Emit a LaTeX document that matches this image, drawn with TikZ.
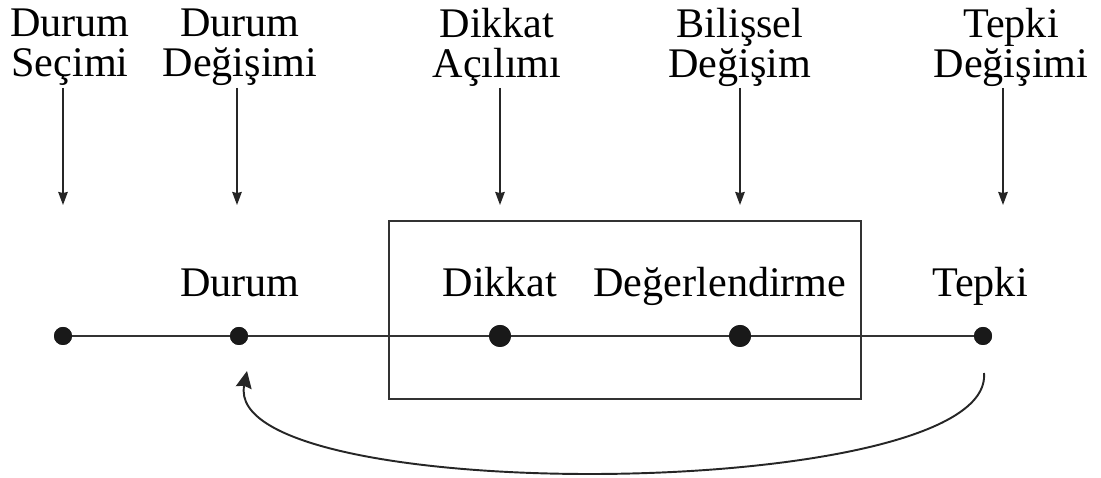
\documentclass[tikz,border=0pt]{standalone}
\usepackage{fontspec}
\setmainfont{Liberation Serif}
\usetikzlibrary{arrows.meta}
\begin{document}
\begin{tikzpicture}[
        lbl/.style={inner sep=0pt, font=\fontsize{24}{22.5}\selectfont},
        toplbl/.style={lbl, align=center, anchor=north},
        smalldot/.style={shape=circle, fill=black!90, inner sep=0pt, minimum size=0.36cm},
        bigdot/.style={shape=circle, fill=black!90, inner sep=0pt, minimum size=0.44cm},
        arr/.style={-{Stealth[length=0.26cm, width=0.19cm, inset=0.02cm]}, line width=0.9pt, black!85},
        line/.style={line width=0.9pt, black!80}
    ]
        \useasboundingbox (0, 0) rectangle (22.02, 9.56);
        % top labels
        \node[toplbl] (L1) at (1.40, 9.38) {Durum\\Seçimi};
        \node[toplbl] (L2) at (4.80, 9.38) {Durum\\Değişimi};
        \node[toplbl] (L3) at (9.94, 9.40) {Dikkat\\Açılımı};
        \node[toplbl] (L4) at (14.80, 9.40) {Bilişsel\\Değişim};
        \node[toplbl] (L5) at (20.22, 9.40) {Tepki\\Değişimi};
        % arrow ends
        \coordinate (a1) at (1.26, 7.80);
        \coordinate (b1) at (1.26, 5.46);
        \coordinate (a2) at (4.74, 7.80);
        \coordinate (b2) at (4.74, 5.46);
        \coordinate (a3) at (10.00, 7.80);
        \coordinate (b3) at (10.00, 5.46);
        \coordinate (a4) at (14.80, 7.80);
        \coordinate (b4) at (14.80, 5.46);
        \coordinate (a5) at (20.06, 7.80);
        \coordinate (b5) at (20.06, 5.46);
        \draw[arr] (a1) -- (b1);
        \draw[arr] (a2) -- (b2);
        \draw[arr] (a3) -- (b3);
        \draw[arr] (a4) -- (b4);
        \draw[arr] (a5) -- (b5);
        % box
        \node[draw=black!80, line width=0.9pt, minimum width=9.44cm, minimum height=3.56cm, inner sep=0pt] (box) at (12.50, 3.36) {};
        % stages
        \node[smalldot] (D1) at (1.26, 2.84) {};
        \node[smalldot] (D2) at (4.78, 2.84) {};
        \node[bigdot] (D3) at (10.00, 2.84) {};
        \node[bigdot] (D4) at (14.80, 2.84) {};
        \node[smalldot] (D5) at (19.66, 2.84) {};
        \draw[line] (D1.center) -- (D5.center);
        \node[smalldot] at (D1) {};
        \node[smalldot] at (D2) {};
        \node[bigdot] at (D3) {};
        \node[bigdot] at (D4) {};
        \node[smalldot] at (D5) {};
        \node[lbl, anchor=base] (S2) at (4.80, 3.62) {Durum};
        \node[lbl, anchor=base] (S3) at (10.00, 3.62) {Dikkat};
        \node[lbl, anchor=base] (S4) at (14.40, 3.62) {Değerlendirme};
        \node[lbl, anchor=base] (S5) at (19.60, 3.62) {Tepki};
        % feedback
        \coordinate (fb1) at (19.68, 2.10);
        \coordinate (fb2) at (4.94, 2.14);
        \draw[line width=1.1pt, black!85, -{Stealth[length=0.34cm, width=0.32cm, inset=0.04cm]}]
            (fb1) .. controls (19.90, -0.50) and (4.40, -0.60) .. (fb2);
    \end{tikzpicture}
\end{document}
